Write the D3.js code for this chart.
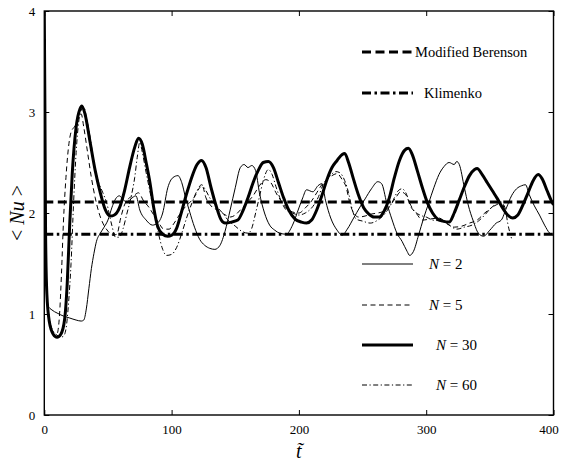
<!DOCTYPE html>
<html>
<head>
<meta charset="utf-8">
<script src="https://cdn.jsdelivr.net/npm/d3@7"></script>
<style>
  body { margin: 0; background: #fff; }
  svg { display: block; }
  text { font-family: "Liberation Serif", "DejaVu Serif", serif; fill: #000; }
</style>
</head>
<body>
<svg id="chart"></svg>
<script>
// reference levels
var berensonValue = 2.11
var klimenkoValue = 1.79

var xTicks = [0, 100, 200, 300, 400]
var yTicks = [0, 1, 2, 3, 4]

// time series: [t, <Nu>]
var n2 = [[0,4.0],[0.5,2.5],[1.2,1.5],[2,1.15],[3,1.08],[6,1.04],[10,1.01],[15,0.98],[20,0.96],[25,0.94],[29,0.93],[31,0.94],[33,1.05],[35,1.25],[37,1.45],[39,1.6],[41,1.72],[44,1.8],[47,1.86],[50,1.93],[53,2.05],[56,2.14],[59,2.17],[62,2.13],[65,2.11],[68,2.14],[72,2.17],[75,2.03],[80,1.93],[85,1.88],[89,1.9],[93,2.0],[97,2.25],[101,2.35],[105,2.37],[108,2.3],[111,2.15],[114,2.02],[118,1.86],[122,1.74],[126,1.68],[130,1.65],[134,1.64],[138,1.68],[142,1.82],[146,2.03],[150,2.25],[154,2.45],[157,2.48],[160,2.45],[163,2.47],[166,2.42],[169,2.2],[173,2.0],[177,1.88],[181,1.83],[185,1.8],[190,1.79],[195,1.88],[200,2.05],[203,2.15],[206,2.23],[211,2.21],[215,2.27],[218,2.29],[221,2.12],[225,1.95],[230,1.83],[234,1.78],[238,1.84],[243,1.95],[248,2.06],[252,2.14],[257,2.24],[262,2.31],[265,2.29],[269,2.1],[273,1.94],[277,1.8],[281,1.72],[285,1.62],[287,1.58],[290,1.62],[294,1.78],[298,1.95],[302,2.1],[306,2.25],[310,2.38],[314,2.46],[318,2.5],[322,2.48],[324,2.51],[326,2.48],[330,2.25],[333,2.08],[337,1.92],[341,1.8],[345,1.77],[350,1.83],[355,1.9],[359,1.93],[363,2.05],[367,2.17],[371,2.24],[375,2.27],[378,2.28],[381,2.18],[385,2.07],[389,1.98],[393,1.88],[397,1.8],[400,1.78]]

var n5 = [[0,4.0],[0.5,2.6],[1,1.7],[2,1.2],[4,0.92],[6,0.82],[8,0.78],[10,0.8],[12,1.0],[13.5,1.4],[15,1.9],[17,2.35],[19,2.65],[21,2.8],[24,2.86],[27,2.95],[29,2.98],[31,2.85],[34,2.6],[37,2.35],[40,2.15],[43,2.0],[46,1.9],[50,1.82],[54,1.78],[57,1.79],[60,1.95],[63,2.08],[66,2.14],[70,2.17],[74,2.2],[78,2.12],[82,2.06],[86,1.98],[90,1.9],[94,1.84],[98,1.84],[102,1.9],[106,1.98],[110,2.05],[114,2.1],[118,2.16],[122,2.25],[124,2.27],[127,2.15],[131,2.07],[136,2.03],[141,1.99],[146,1.96],[150,1.98],[154,2.03],[159,2.1],[164,2.17],[169,2.27],[174,2.33],[178,2.3],[182,2.2],[186,2.12],[190,2.05],[195,2.01],[200,2.0],[205,2.05],[210,2.12],[214,2.2],[218,2.28],[222,2.33],[226,2.37],[230,2.39],[234,2.33],[237,2.26],[240,2.1],[243,2.0],[247,1.96],[252,1.97],[257,1.99],[262,2.0],[267,2.02],[272,2.08],[276,2.15],[280,2.21],[284,2.18],[288,2.06],[292,2.0],[297,1.93],[303,1.94],[310,1.95],[316,1.9],[322,1.86],[328,1.87],[334,1.9],[340,1.93],[346,2.0],[351,2.05],[356,2.1],[359,2.11],[362,2.0]]

var n30 = [[0,4.0],[0.5,3.0],[1,1.8],[2,1.2],[4,0.92],[7,0.8],[10,0.77],[13,0.8],[16,0.95],[18,1.3],[20,1.9],[22,2.4],[25,2.85],[28,3.03],[29.5,3.06],[32,2.98],[36,2.7],[40,2.42],[44,2.2],[48,2.03],[52,1.97],[55,1.98],[59,2.05],[63,2.22],[67,2.45],[71,2.65],[74,2.74],[77,2.68],[80,2.5],[83,2.3],[86,2.05],[89,1.87],[93,1.79],[97,1.77],[100,1.78],[104,1.85],[108,2.02],[112,2.2],[116,2.36],[120,2.48],[123.5,2.52],[127,2.45],[131,2.25],[135,2.07],[139,1.93],[142,1.9],[147,1.91],[152,1.93],[156,2.02],[160,2.15],[164,2.3],[168,2.42],[172,2.5],[176,2.51],[180,2.45],[184,2.3],[188,2.15],[192,2.03],[197,1.94],[202,1.91],[206,1.9],[210,1.93],[214,2.03],[218,2.17],[222,2.33],[226,2.45],[230,2.52],[234,2.58],[236,2.59],[239,2.5],[243,2.33],[247,2.17],[251,2.05],[255,1.99],[259,1.96],[263,1.96],[267,2.02],[271,2.15],[275,2.35],[279,2.52],[283,2.62],[286,2.64],[289,2.58],[293,2.42],[297,2.25],[301,2.1],[305,2.0],[309,1.94],[313,1.92],[318,1.91],[322,2.0],[326,2.13],[330,2.26],[334,2.37],[338,2.43],[340,2.44],[344,2.38],[348,2.3],[352,2.22],[356,2.14],[360,2.05],[364,1.98],[368,1.95],[372,1.98],[376,2.08],[380,2.2],[384,2.32],[388,2.38],[391,2.34],[395,2.22],[398,2.13],[400,2.08]]

var n60 = [[0,4.0],[0.5,2.8],[1,1.8],[2,1.25],[4,0.95],[7,0.83],[10,0.79],[13,0.77],[15,0.78],[17,0.85],[19,1.1],[21,1.5],[23,2.1],[25,2.6],[27,2.9],[29,3.02],[31,3.05],[33,2.95],[36,2.75],[39,2.5],[42,2.33],[46,2.2],[49,2.1],[53,1.88],[56,1.76],[59,1.76],[62,1.85],[65,2.0],[68,2.15],[71,2.35],[73,2.55],[75,2.7],[77,2.6],[80,2.4],[84,2.15],[87,1.96],[90,1.78],[93,1.64],[96,1.58],[100,1.59],[104,1.66],[108,1.8],[112,1.96],[116,2.1],[120,2.22],[123.5,2.28],[127,2.22],[130,2.15],[135,2.07],[140,2.0],[145,1.92],[150,1.87],[155,1.82],[160,1.8],[163,1.85],[166,2.0],[169,2.16],[172,2.32],[176,2.43],[179,2.38],[182,2.26],[186,2.12],[190,2.03],[195,2.0],[200,1.98],[205,2.0],[210,2.05],[215,2.15],[219,2.28],[224,2.36],[229,2.41],[232,2.4],[236,2.32],[239,2.2],[242,2.03],[245,1.94],[250,1.92],[256,1.9],[262,1.93],[268,2.0],[273,2.1],[278,2.22],[281,2.24],[284,2.2],[287,2.1],[290,2.03],[295,1.98],[300,1.96],[305,1.93],[312,1.92],[318,1.88],[324,1.84],[330,1.86],[336,1.88],[341,1.92],[346,1.98],[351,2.05],[355,2.08],[359,2.1],[362,2.05],[364,1.9],[367,1.75]]

var W = 561, H = 462
var margin = { top: 11, right: 7.5, bottom: 47, left: 44.3 }
var width = W - margin.left - margin.right,
	height = H - margin.top - margin.bottom

var svg = d3.select("#chart")
	.attr("width", W)
	.attr("height", H)

var xScale = d3.scaleLinear().domain([0, 400]).range([0, width])
var yScale = d3.scaleLinear().domain([0, 4]).range([height, 0])

var g = svg.append("g")
	.attr("transform", "translate(" + margin.left + "," + margin.top + ")")

g.append("clipPath").attr("id", "clip")
	.append("rect").attr("width", width).attr("height", height)

var line = d3.line()
	.x(function (d) { return xScale(d[0]) })
	.y(function (d) { return yScale(d[1]) })
	.curve(d3.curveMonotoneX)

var plot = g.append("g").attr("clip-path", "url(#clip)")

var series = [
	{ data: n2, width: 1, dash: null },
	{ data: n5, width: 1, dash: "5,3.5" },
	{ data: n60, width: 1, dash: "5,2.5,1.2,2.5" },
	{ data: n30, width: 3, dash: null }
]

series.forEach(function (s) {
	plot.append("path")
		.datum(s.data)
		.attr("d", line)
		.attr("fill", "none")
		.attr("stroke", "#000")
		.attr("stroke-width", s.width)
		.attr("stroke-linejoin", "round")
		.attr("stroke-dasharray", s.dash)
})

// reference lines
plot.append("line")
	.attr("x1", 0).attr("x2", width)
	.attr("y1", yScale(berensonValue)).attr("y2", yScale(berensonValue))
	.attr("stroke", "#000").attr("stroke-width", 3)
	.attr("stroke-dasharray", "9,4.5")

plot.append("line")
	.attr("x1", 0).attr("x2", width)
	.attr("y1", yScale(klimenkoValue)).attr("y2", yScale(klimenkoValue))
	.attr("stroke", "#000").attr("stroke-width", 3)
	.attr("stroke-dasharray", "9,3.5,2.5,3.5")

// axes, ticks pointing inward
var fmt = d3.format("d")
g.append("g")
	.attr("class", "xaxis")
	.attr("transform", "translate(0," + height + ")")
	.call(d3.axisBottom(xScale).tickValues(xTicks).tickFormat(fmt).tickSizeInner(-5).tickSizeOuter(0).tickPadding(10))
g.append("g")
	.call(d3.axisTop(xScale).tickValues(xTicks).tickSizeInner(-5).tickSizeOuter(0).tickFormat(""))
g.append("g")
	.call(d3.axisLeft(yScale).tickValues(yTicks).tickFormat(fmt).tickSizeInner(-5).tickSizeOuter(0).tickPadding(9))
g.append("g")
	.attr("transform", "translate(" + width + ",0)")
	.call(d3.axisRight(yScale).tickValues(yTicks).tickSizeInner(-5).tickSizeOuter(0).tickFormat(""))

g.selectAll(".tick text")
	.style("font-family", "'Liberation Serif', serif")
	.style("font-size", "13px")
// last label sits a little inside the page edge
g.selectAll(".xaxis .tick text")
	.filter(function (d) { return d === 400 })
	.attr("dx", -5)
g.selectAll(".domain").remove()
g.selectAll(".tick line").attr("stroke-width", 1)

g.append("rect")
	.attr("width", width).attr("height", height)
	.attr("fill", "none").attr("stroke", "#000").attr("stroke-width", 1.4)

// axis titles
svg.append("text")
	.attr("transform", "translate(24," + (margin.top + yScale(2)) + ") rotate(-90)")
	.attr("text-anchor", "middle")
	.style("font-size", "20px")
	.html('&lt; <tspan font-style="italic">Nu</tspan> &gt;')

svg.append("text")
	.attr("x", margin.left + xScale(200))
	.attr("y", 458)
	.attr("text-anchor", "middle")
	.style("font-size", "20px")
	.style("font-style", "italic")
	.text("t\u0303")

// legend
var legendTop = [
	{ label: "Modified Berenson", v: 52, w: 3, dash: "9,4.5", tx: 415 },
	{ label: "Klimenko", v: 93, w: 3, dash: "9,3.5,2.5,3.5", tx: 424 }
]
legendTop.forEach(function (d) {
	svg.append("line")
		.attr("x1", 362).attr("x2", 413).attr("y1", d.v).attr("y2", d.v)
		.attr("stroke", "#000").attr("stroke-width", d.w).attr("stroke-dasharray", d.dash)
	svg.append("text")
		.attr("x", d.tx).attr("y", d.v + 5)
		.style("font-size", "14.5px")
		.text(d.label)
})

var legendN = [
	{ n: 2, v: 264, w: 1, dash: null, tx: 429 },
	{ n: 5, v: 305, w: 1, dash: "5,3.5", tx: 429 },
	{ n: 30, v: 345, w: 3, dash: null, tx: 436 },
	{ n: 60, v: 385, w: 1, dash: "5,2.5,1.2,2.5", tx: 436 }
]
legendN.forEach(function (d) {
	svg.append("line")
		.attr("x1", 362).attr("x2", 413).attr("y1", d.v).attr("y2", d.v)
		.attr("stroke", "#000").attr("stroke-width", d.w).attr("stroke-dasharray", d.dash)
	var t = svg.append("text")
		.attr("x", d.tx).attr("y", d.v + 5)
		.style("font-size", "15px")
	t.append("tspan").style("font-style", "italic").text("N")
	t.append("tspan").text(" = " + d.n)
})
</script>
</body>
</html>
